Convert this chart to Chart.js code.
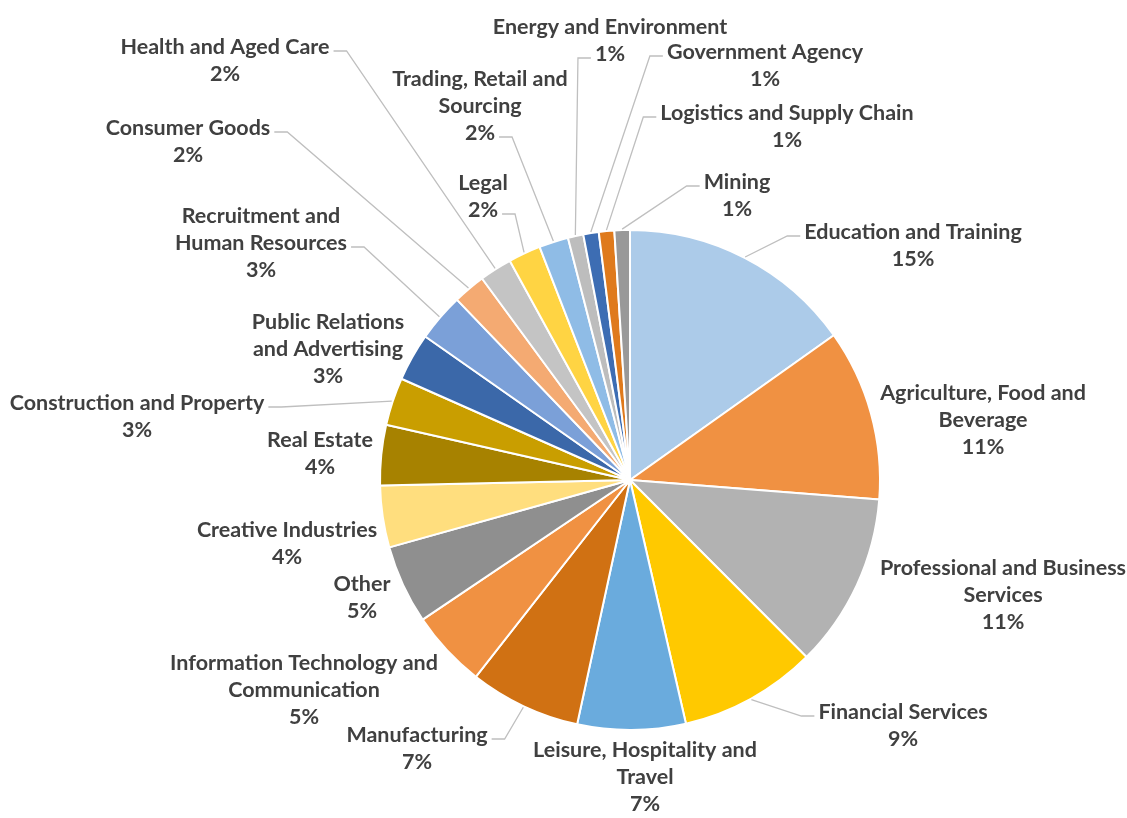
<!DOCTYPE html>
<html>
<head>
<meta charset="utf-8">
<script src="https://cdn.jsdelivr.net/npm/chart.js@4"></script>
<style>
    body { margin: 0; background: #ffffff; }
    #caixa { width: 1127px; height: 818px; position: relative; }
</style>
</head>
<body>
<div id="caixa"><canvas id="graficoSetores"></canvas></div>
<script>
// categorias (quebras de linha iguais ao original)
const setores = [
    ['Education and Training'],
    ['Agriculture, Food and', 'Beverage'],
    ['Professional and Business', 'Services'],
    ['Financial Services'],
    ['Leisure, Hospitality and', 'Travel'],
    ['Manufacturing'],
    ['Information Technology and', 'Communication'],
    ['Other'],
    ['Creative Industries'],
    ['Real Estate'],
    ['Construction and Property'],
    ['Public Relations', 'and Advertising'],
    ['Recruitment and', 'Human Resources'],
    ['Consumer Goods'],
    ['Health and Aged Care'],
    ['Legal'],
    ['Trading, Retail and', 'Sourcing'],
    ['Energy and Environment'],
    ['Government Agency'],
    ['Logistics and Supply Chain'],
    ['Mining']
]

// participação (%)
const valores = [15.2, 11.1, 11.3, 8.9, 7.0, 7.2, 5.0, 5.1, 4.0, 3.9, 3.1, 3.1, 3.1, 2.1, 2.1, 2.1, 1.9, 1.0, 1.0, 1.0, 1.0]

const cores = [
    '#ACCBE9', '#F09142', '#B2B2B2', '#FFC900', '#6AABDD', '#D07113', '#F09142',
    '#8F8F8F', '#FFDE7E', '#A78200', '#C99E00', '#3B68A9', '#7BA0D8', '#F4AA72',
    '#C4C4C4', '#FFD443', '#8FBCE6', '#BDBDBD', '#3D6DB3', '#DF7A1C', '#999999'
]

// posição dos rótulos: [dx, dy] do centro da pizza até o centro da 1a linha,
// lado da linha guia ('E' esquerda, 'D' direita, null sem linha) e linha do texto onde ela encosta
const posRotulos = [
    [283, -248, 'E', 0],
    [353, -87, null, 0],
    [373, 88, null, 0],
    [273, 232, 'E', 0],
    [15, 270, null, 0],
    [-213, 255, 'D', 0],
    [-326, 183, null, 0],
    [-268, 104, null, 0],
    [-343, 50, null, 0],
    [-310, -40, null, 0],
    [-493, -77, 'D', 0],
    [-302, -158, null, 0],
    [-369, -264, 'D', 1],
    [-442, -352, 'D', 0],
    [-405, -433, 'D', 0],
    [-147, -297, 'D', 1],
    [-150, -401, 'D', 2],
    [-20, -453, 'E', 1],
    [135, -428, 'E', 0],
    [157, -367, 'E', 0],
    [107, -298, 'E', 0]
]

const rotulosPizza = {
    id: 'rotulosPizza',
    afterDraw(chart) {
        const ctx = chart.ctx
        const arcos = chart.getDatasetMeta(0).data
        const total = valores.reduce((a, b) => a + b, 0)
        const alturaLinha = 27

        ctx.save()
        ctx.font = 'bold 21.5px Lato'
        ctx.textAlign = 'center'
        ctx.textBaseline = 'middle'

        arcos.forEach((arco, i) => {
            const { x, y, outerRadius, startAngle, endAngle } = arco.getProps(['x', 'y', 'outerRadius', 'startAngle', 'endAngle'], true)
            const [dx, dy, lado, linhaGuia] = posRotulos[i]
            const linhas = setores[i].concat([Math.round(valores[i] / total * 100) + '%'])
            const cx = x + dx
            const cy = y + dy

            if (lado) {
                const meio = (startAngle + endAngle) / 2
                const px = x + Math.cos(meio) * (outerRadius + 1)
                const py = y + Math.sin(meio) * (outerRadius + 1)
                const larg = ctx.measureText(linhas[linhaGuia]).width
                const ly = cy + linhaGuia * alturaLinha + 4
                const borda = lado === 'E' ? cx - larg / 2 - 4 : cx + larg / 2 + 4
                const cotovelo = lado === 'E' ? borda - 13 : borda + 13
                ctx.strokeStyle = '#BFBFBF'
                ctx.lineWidth = 1.3
                ctx.beginPath()
                ctx.moveTo(px, py)
                ctx.lineTo(cotovelo, ly)
                ctx.lineTo(borda, ly)
                ctx.stroke()
            }

            ctx.fillStyle = '#404040'
            linhas.forEach((txt, k) => {
                ctx.fillText(txt, cx, cy + k * alturaLinha)
            })
        })
        ctx.restore()
    }
}

const graficoSetores = document.getElementById('graficoSetores')
new Chart(graficoSetores, {
    type: 'pie',
    data: {
        labels: setores.map(s => s.join(' ')),
        datasets: [{
            data: valores,
            backgroundColor: cores,
            borderColor: '#ffffff',
            borderWidth: 2
        }]
    },
    options: {
        responsive: true,
        maintainAspectRatio: false,
        animation: false,
        layout: {
            padding: { left: 379, right: 246, top: 229, bottom: 87 }
        },
        plugins: {
            legend: { display: false },
            tooltip: { enabled: false }
        }
    },
    plugins: [rotulosPizza]
})
</script>
</body>
</html>
